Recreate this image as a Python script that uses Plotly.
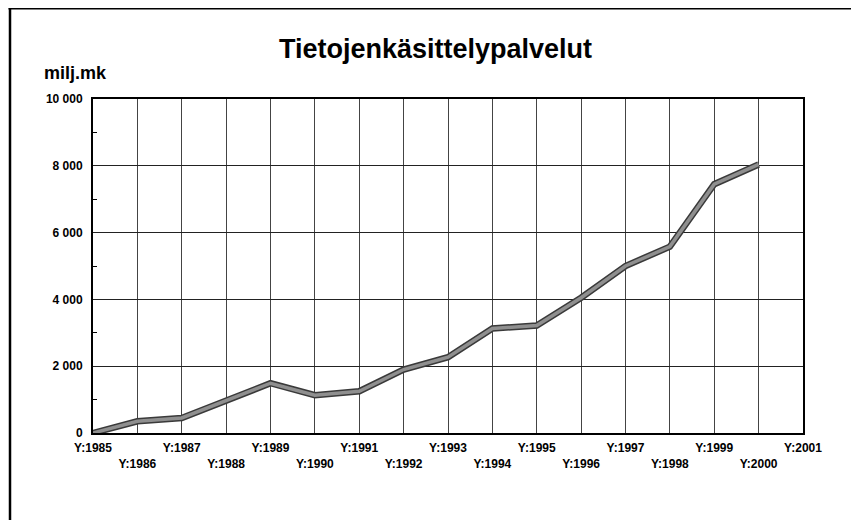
import plotly.graph_objects as go

years = list(range(1985, 2001))
values = [0, 350, 450, 960, 1490, 1130, 1250, 1900, 2270, 3130, 3220, 4050, 5000, 5580, 7450, 8040]
tick_years = list(range(1985, 2002))
tick_labels = [("Y:%d" % y) if (y - 1985) % 2 == 0 else ("<br>Y:%d" % y) for y in tick_years]
y_ticks = [0, 2000, 4000, 6000, 8000, 10000]
y_labels = ["0", "2 000", "4 000", "6 000", "8 000", "10 000"]

FONT = "Liberation Sans, Arial, sans-serif"

fig = go.Figure()
fig.add_trace(go.Scatter(x=years, y=values, mode="lines",
                         line=dict(color="#3a3a3a", width=6.5), hoverinfo="skip", showlegend=False))
fig.add_trace(go.Scatter(x=years, y=values, mode="lines",
                         line=dict(color="#8f8f8f", width=3.5), showlegend=False))

# page body has an 8px margin; figure coordinates = screen - 8
W, H = 851, 512
L, T = 85, 91
R = W - 795
B = H - 425
pw, ph = W - L - R, H - T - B

def px(x):
    return (x - L) / pw

def py(y):
    return (H - B - y) / ph

fig.update_layout(
    width=W, height=H,
    margin=dict(l=L, r=R, t=T, b=B),
    paper_bgcolor="white", plot_bgcolor="white",
    font=dict(family=FONT, color="black", size=12),
    title=dict(text="<b>Tietojenkäsittelypalvelut</b>", x=427.5 / W, xanchor="center",
               y=1 - 40.5 / H, yanchor="middle", font=dict(size=27, family=FONT, color="black")),
    xaxis=dict(range=[1985, 2001], tickmode="array", tickvals=tick_years, ticktext=tick_labels,
               showgrid=True, gridcolor="#444444", gridwidth=1,
               showline=True, linecolor="black", linewidth=2, mirror=True,
               ticks="", tickfont=dict(size=12, family=FONT, weight="bold"),
               tickangle=0, zeroline=False, ticklabelstandoff=3),
    yaxis=dict(range=[0, 10000], tickmode="array", tickvals=y_ticks, ticktext=y_labels,
               showgrid=True, gridcolor="#222222", gridwidth=1,
               showline=True, linecolor="black", linewidth=2, mirror=True,
               ticks="", tickfont=dict(size=12, family=FONT, weight="bold"),
               minor=dict(tickvals=[1000, 3000, 5000, 7000, 9000], ticks="inside", ticklen=4,
                          tickcolor="black", tickwidth=1, showgrid=False),
               zeroline=False, ticklabelstandoff=6),
    annotations=[dict(text="<b>milj.mk</b>", xref="paper", yref="paper",
                      x=px(34), y=py(65), xanchor="left", yanchor="middle",
                      showarrow=False, font=dict(size=18, family=FONT, color="black"))],
    shapes=[
        dict(type="line", xref="paper", yref="paper", x0=px(0.5), x1=px(870), y0=py(0), y1=py(0),
             line=dict(color="black", width=3)),
        dict(type="line", xref="paper", yref="paper", x0=px(2), x1=px(2), y0=py(-1), y1=py(530),
             line=dict(color="black", width=2.5)),
    ],
)

fig.write_html("out.html")
